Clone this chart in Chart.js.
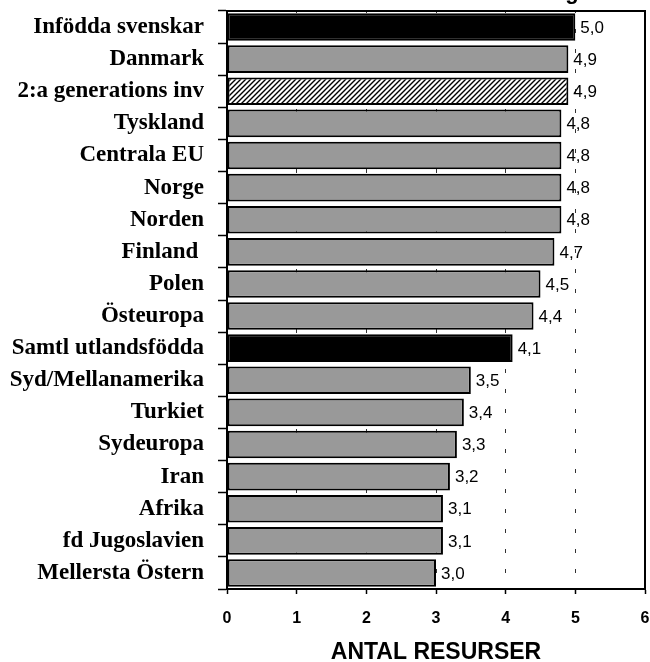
<!DOCTYPE html>
<html>
<head>
<meta charset="utf-8">
<script src="https://cdn.jsdelivr.net/npm/chart.js@4/dist/chart.umd.min.js"></script>
<style>
  html, body { margin: 0; padding: 0; background: #ffffff; }
  #wrap { width: 650px; height: 662px; position: relative; }
</style>
</head>
<body>
<div id="wrap"><canvas id="c" width="650" height="662"></canvas></div>
<script>
const categories = [
  "Infödda svenskar", "Danmark", "2:a generations inv", "Tyskland", "Centrala EU",
  "Norge", "Norden", "Finland ", "Polen", "Östeuropa", "Samtl utlandsfödda",
  "Syd/Mellanamerika", "Turkiet", "Sydeuropa", "Iran", "Afrika",
  "fd Jugoslavien", "Mellersta Östern"
];
const values = [5.0, 4.9, 4.9, 4.8, 4.8, 4.8, 4.8, 4.7, 4.5, 4.4, 4.1, 3.5, 3.4, 3.3, 3.2, 3.1, 3.1, 3.0];
const barKinds = ["black", "gray", "hatch", "gray", "gray", "gray", "gray", "gray", "gray", "gray",
  "black", "gray", "gray", "gray", "gray", "gray", "gray", "gray"];
const xTicks = [0, 1, 2, 3, 4, 5, 6];
const axisTitle = "ANTAL RESURSER";
const topTitleFragment = "g";

function makeHatch() {
  const s = 5;
  const p = document.createElement('canvas');
  p.width = s; p.height = s;
  const g = p.getContext('2d');
  g.fillStyle = '#ffffff';
  g.fillRect(0, 0, s, s);
  g.strokeStyle = '#000000';
  g.lineWidth = 1.4;
  g.beginPath();
  g.moveTo(-1, s + 1); g.lineTo(s + 1, -1);
  g.moveTo(-1, 1); g.lineTo(1, -1);
  g.moveTo(s - 1, s + 1); g.lineTo(s + 1, s - 1);
  g.stroke();
  return document.getElementById('c').getContext('2d').createPattern(p, 'repeat');
}
const hatch = makeHatch();
const fills = barKinds.map(k => k === 'black' ? '#000000' : (k === 'hatch' ? hatch : '#999999'));

const frame = {
  id: 'frame',
  afterDatasetsDraw(chart) {
    const {ctx, chartArea: a} = chart;
    ctx.save();
    ctx.setLineDash([]);
    ctx.strokeStyle = '#000';
    ctx.lineWidth = 2;
    ctx.strokeRect(a.left, a.top, a.right - a.left, a.bottom - a.top);
    const meta = chart.getDatasetMeta(0);
    ctx.fillStyle = '#000';
    ctx.font = '17px "Liberation Sans", Arial, sans-serif';
    ctx.textAlign = 'left';
    ctx.textBaseline = 'middle';
    meta.data.forEach((bar, i) => {
      ctx.fillText(values[i].toFixed(1).replace('.', ','), bar.x + 5, bar.y + 1);
    });
    ctx.font = 'bold 22px "Liberation Sans", Arial, sans-serif';
    ctx.textAlign = 'center';
    ctx.textBaseline = 'alphabetic';
    ctx.fillText(topTitleFragment, 572, -1.5);
    ctx.restore();
  }
};

new Chart(document.getElementById('c'), {
  type: 'bar',
  data: {
    labels: categories,
    datasets: [{
      data: values,
      backgroundColor: fills,
      borderColor: '#000000',
      borderWidth: 2,
      borderSkipped: false,
      barPercentage: 0.86,
      categoryPercentage: 1.0
    }]
  },
  plugins: [frame],
  options: {
    indexAxis: 'y',
    responsive: false,
    animation: false,
    events: [],
    layout: { padding: { top: 11, right: 5, left: 0, bottom: 0 } },
    plugins: { legend: { display: false }, tooltip: { enabled: false }, title: { display: false } },
    scales: {
      x: {
        min: 0, max: 6,
        afterFit(scale) { scale.height = 73; scale.paddingLeft = 0; scale.paddingRight = 0; },
        afterBuildTicks(scale) { scale.ticks = xTicks.map(v => ({ value: v })); },
        ticks: {
          color: '#000',
          padding: 15,
          maxRotation: 0,
          font: { family: '"Liberation Sans", Arial, sans-serif', size: 16, weight: 'bold' },
          callback: v => String(v)
        },
        grid: {
          color: '#333333',
          lineWidth: 1,
          drawTicks: true,
          tickLength: 5,
          tickColor: '#000',
          tickWidth: 1.5,
          tickBorderDash: []
        },
        border: { display: true, color: '#000', width: 2, dash: [4, 16], dashOffset: 2 },
        title: {
          display: true,
          text: axisTitle,
          color: '#000',
          font: { family: '"Liberation Sans", Arial, sans-serif', size: 23, weight: 'bold', lineHeight: 0.8 },
          padding: { top: 0, bottom: 0 }
        }
      },
      y: {
        afterFit(scale) { scale.width = 227; scale.paddingTop = 0; scale.paddingBottom = 0; },
        ticks: {
          color: '#000',
          padding: 14,
          font: { family: '"Liberation Serif", "Times New Roman", serif', size: 23, weight: 'bold' },
          autoSkip: false
        },
        grid: {
          offset: true,
          drawOnChartArea: false,
          drawTicks: true,
          tickLength: 9,
          tickColor: '#000',
          tickWidth: 1.5
        },
        border: { display: true, color: '#000', width: 2 }
      }
    }
  }
});
</script>
</body>
</html>
